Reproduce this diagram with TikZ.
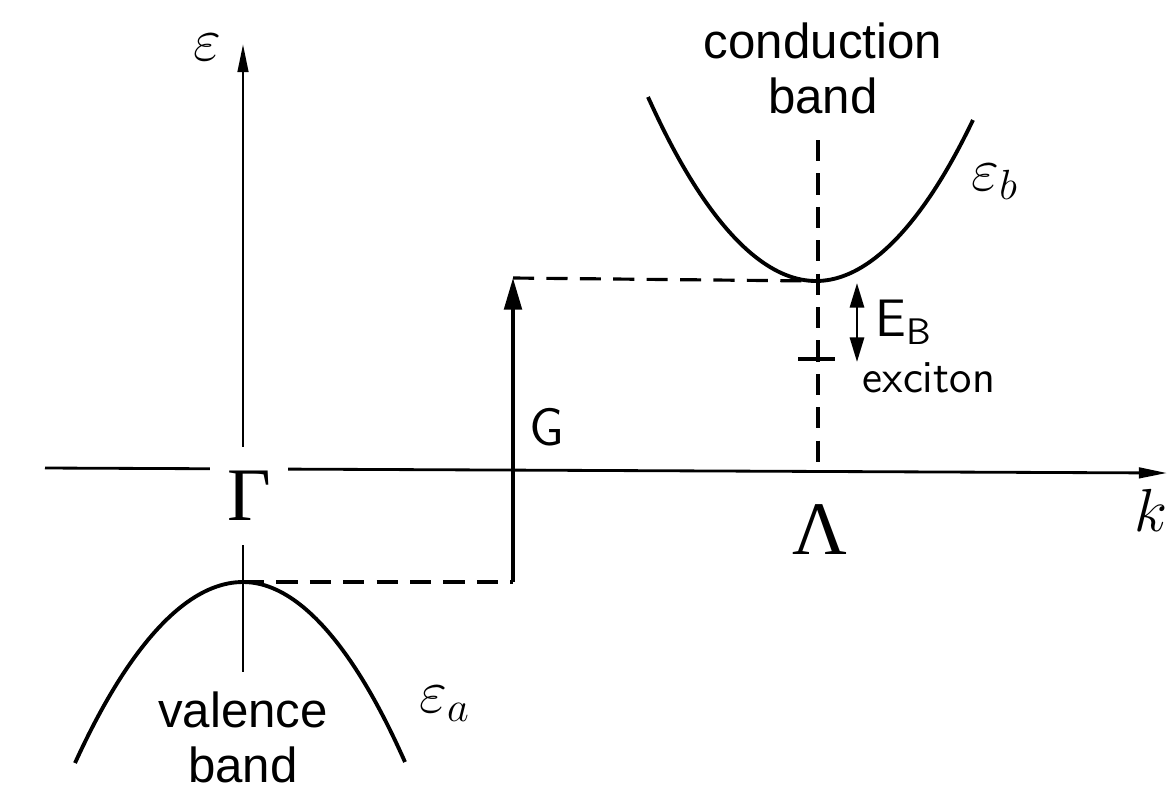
\documentclass[tikz,border=0pt]{standalone}
\usepackage{fontspec}
\newfontfamily\arialfont{Liberation Sans}
\newfontfamily\timesfont{Liberation Serif}
\usetikzlibrary{arrows.meta,calc,positioning}
\tikzset{
    myaxis/.style={line width=0.8pt,draw=black,-{Triangle[length=8pt,width=3pt]}},
    myarrow/.style={line width=1pt,draw=black,-{Triangle[length=9pt,width=5pt]}},
    mydbl/.style={line width=0.8pt,draw=black,{Triangle[length=7pt,width=4pt]}-{Triangle[length=7pt,width=4pt]}},
    mydash/.style={line width=0.9pt,dash pattern=on 6pt off 3.5pt},
    myband/.style={line width=1.1pt,draw=black},
    mybox/.style={fill=white,inner sep=0pt,align=center,font=\arialfont\fontsize{14}{15.6}\selectfont},
    mygreek/.style={fill=white,inner sep=0pt,font=\timesfont\fontsize{21.5}{22}\selectfont},
    myhand/.style={inner sep=0pt,font=\sffamily\fontsize{13}{15}\selectfont},
    myeps/.style={inner sep=0pt,font=\fontsize{18}{20}\selectfont}
}
\begin{document}
\begin{tikzpicture}[x=0.01cm,y=-0.01cm]
  \useasboundingbox (0,0) rectangle (1169,793);
  \coordinate (Etop) at (243,44);
  \coordinate (Ebot) at (243,690);
  \coordinate (Kleft) at (45,468);
  \coordinate (Kright) at (1167,473);
  \coordinate (VBl) at (75,763);
  \coordinate (VB) at (243,582);
  \coordinate (VBr) at (405,762);
  \coordinate (CBl) at (648,97);
  \coordinate (CB) at (816,281);
  \coordinate (CBr) at (973,120);
  \coordinate (Gbot) at (513,582);
  \coordinate (Gtop) at (513,278);
  \coordinate (Ltop) at (818,140);
  \coordinate (Lbot) at (818,470);
  \coordinate (EBtop) at (857,283);
  \coordinate (EBbot) at (857,362);
  \coordinate (Xl) at (798,359);
  \coordinate (Xr) at (835,359);

  % axes
  \draw[myaxis] (Ebot) -- (Etop);
  \draw[myaxis] (Kleft) -- (Kright);

  % bands
  \draw[myband] (VBl) parabola bend (VB) (VBr);
  \draw[myband] (CBl) parabola bend (CB) (CBr);

  % gap and exciton
  \draw[mydash] (VB) -- (Gbot);
  \draw[myarrow] (Gbot) -- (Gtop);
  \draw[mydash] (Gtop) -- (CB);
  \draw[mydash] (Ltop) -- (Lbot);
  \draw[mydbl] (EBtop) -- (EBbot);
  \draw[line width=1pt] (Xl) -- (Xr);

  % labels
  \node[mybox,minimum width=2.73cm,minimum height=1.37cm] (cond) at (823,68) {conduction\\band};
  \node[mybox,minimum width=1.85cm,minimum height=1.3cm] (val) at (243,737) {valence\\band};
  \node[mygreek,minimum width=0.78cm,minimum height=0.97cm] (Gamma) at (249,496) {Γ};
  \node[mygreek,minimum width=0.85cm,minimum height=1.0cm] (Lambda) at (820,530) {Λ};
  \node[myeps] (eps) at (207,47) {$\varepsilon$};
  \node[myeps] (epsb) at (995,182) {$\varepsilon_b$};
  \node[myeps] (epsa) at (445,704) {$\varepsilon_a$};
  \node[myeps] (k) at (1151,510) {$k$};
  \node[myhand,font=\sffamily\fontsize{15}{17}\selectfont] (G) at (547,427) {G};
  \node[myhand,font=\sffamily\fontsize{15}{17}\selectfont,anchor=west] (EB) at (875,322) {E\textsubscript{B}};
  \node[myhand,anchor=west] (exc) at (862,378) {exciton};
\end{tikzpicture}
\end{document}
